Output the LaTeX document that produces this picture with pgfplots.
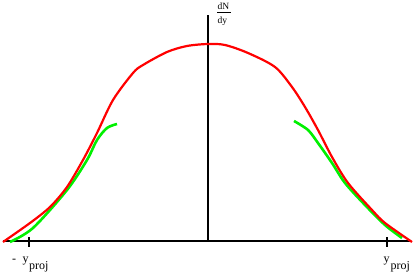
\documentclass[border=0pt]{standalone}
\usepackage{pgfplots}
\pgfplotsset{compat=1.18}
\usepackage{fontspec}
\setmainfont{Liberation Serif}
\definecolor{myred}{RGB}{255,0,0}
\definecolor{mygreen}{RGB}{0,240,0}
\begin{document}
\begin{tikzpicture}
\useasboundingbox (0,0) rectangle (415pt,275pt);
\begin{axis}[
  at={(0,0)}, anchor=south west,
  scale only axis, width=415pt, height=275pt,
  xmin=0, xmax=415, ymin=0, ymax=275,
  axis lines=none, clip=false,
]
% axes
\addplot[black, line width=2pt] coordinates {(3,33.5) (411,33.5)};
\addplot[black, line width=2pt] coordinates {(207.5,33.5) (207.5,260)};
\addplot[black, line width=2pt] coordinates {(29,28) (29,38)};
\addplot[black, line width=2pt] coordinates {(386.5,28) (386.5,38)};
% green curves
\addplot[mygreen, line width=2.6pt, smooth] coordinates {
(10,33) (33,47) (67,85) (87,115) (97,135) (107,147) (117,151)};
\addplot[mygreen, line width=2.6pt, smooth] coordinates {
(294,154) (308,145) (318,132) (332,112) (345,92) (365,70) (385,50) (402,37)};
% red curve
\addplot[myred, line width=2.2pt, smooth] coordinates {
(3,33) (30,52) (50,68) (67,88) (83,115) (97,142) (113,175) (133,202) (143,210) (167,223) (187,229) (208,231) (225,230) (248,222) (275,208) (292,188) (305,168) (318,145) (332,118) (348,92) (372,65) (385,52) (412,33)};
% labels
\node[anchor=base west, inner sep=0pt, font=\fontsize{9.5}{10}\selectfont] at (axis cs:217.5,265.5) {dN};
\draw[black, line width=0.5pt] (axis cs:217,262.3) -- (axis cs:231,262.3);
\node[anchor=base west, inner sep=0pt, font=\fontsize{9.5}{10}\selectfont] at (axis cs:217.5,251.5) {dy};
\node[anchor=center, inner sep=0pt, font=\fontsize{12}{13}\selectfont] at (axis cs:14,14) {-};
\node[anchor=base west, inner sep=0pt, font=\fontsize{12}{13}\selectfont] at (axis cs:22.5,12) {y};
\node[anchor=base west, inner sep=0pt, font=\fontsize{12}{13}\selectfont] at (axis cs:29,5.5) {proj};
\node[anchor=base west, inner sep=0pt, font=\fontsize{12}{13}\selectfont] at (axis cs:383.5,12) {y};
\node[anchor=base west, inner sep=0pt, font=\fontsize{12}{13}\selectfont] at (axis cs:390.5,5.5) {proj};
\end{axis}
\end{tikzpicture}
\end{document}
